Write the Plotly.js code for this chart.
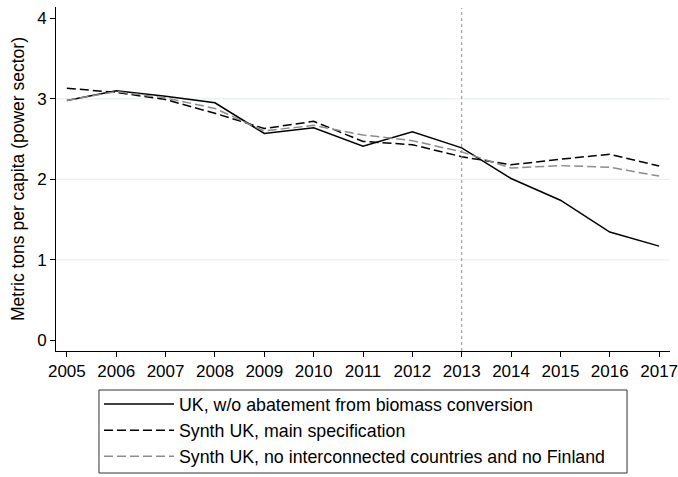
<!DOCTYPE html>
<html>
<head>
<meta charset="utf-8">
<script src="https://cdn.plot.ly/plotly-3.0.1.min.js"></script>
<style>html,body{margin:0;padding:0;background:#fff;}#chart{width:678px;height:477px;}</style>
</head>
<body>
<div id="chart"></div>
<script>
const years = [2005,2006,2007,2008,2009,2010,2011,2012,2013,2014,2015,2016,2017];
const ukNoBiomass = [2.98,3.10,3.03,2.95,2.57,2.64,2.41,2.59,2.39,2.01,1.74,1.345,1.17];
const synthMain = [3.13,3.08,2.99,2.82,2.63,2.72,2.47,2.43,2.28,2.18,2.25,2.31,2.165];
const synthNoInterconn = [2.98,3.09,3.01,2.88,2.60,2.67,2.55,2.48,2.34,2.14,2.17,2.15,2.04];
const seriesNames = [
  "UK, w/o abatement from biomass conversion",
  "Synth UK, main specification",
  "Synth UK, no interconnected countries and no Finland"
];
const treatmentYear = 2013;
const yTicks = [0,1,2,3,4];
const gridVals = [1,2,3];

const FONT = "Liberation Sans, Arial, Helvetica, sans-serif";

const traces = [
  {x: years, y: ukNoBiomass, name: seriesNames[0], type: 'scatter', mode: 'lines',
   line: {color: '#000000', width: 1.5}},
  {x: years, y: synthMain, name: seriesNames[1], type: 'scatter', mode: 'lines',
   line: {color: '#000000', width: 1.5, dash: '9px,4px'}},
  {x: years, y: synthNoInterconn, name: seriesNames[2], type: 'scatter', mode: 'lines',
   line: {color: '#8c8c8c', width: 1.5, dash: '9px,4px'}}
];

const shapes = gridVals.map(v => ({
  type: 'line', xref: 'paper', x0: 0, x1: 1, yref: 'y', y0: v, y1: v,
  line: {color: '#e8eff2', width: 1.2}, layer: 'below'
}));
shapes.push({
  type: 'line', xref: 'x', x0: treatmentYear, x1: treatmentYear, yref: 'paper', y0: 0, y1: 0.997,
  line: {color: '#909090', width: 1, dash: 'dot'}
});
// legend frame
shapes.push({
  type: 'rect', xref: 'paper', yref: 'paper',
  x0: 0.070, x1: 0.930, y0: -0.3547, y1: -0.1134,
  line: {color: '#333', width: 1}, fillcolor: 'rgba(0,0,0,0)'
});

const layout = {
  width: 678, height: 477,
  margin: {l: 56, r: 8, t: 7, b: 126, autoexpand: false},
  paper_bgcolor: '#ffffff', plot_bgcolor: '#ffffff',
  font: {family: FONT, size: 17, color: '#000'},
  showlegend: true,
  xaxis: {
    range: [2004.78, 2017.22], tickvals: years, ticktext: years.map(String),
    showgrid: false, zeroline: false, showline: true, linecolor: '#000', linewidth: 1,
    ticks: 'outside', ticklen: 5, tickcolor: '#000', tickfont: {size: 17, family: FONT},
    ticklabeloverflow: 'allow', automargin: false
  },
  yaxis: {
    range: [-0.133, 4.14], tickvals: yTicks,
    showgrid: false, zeroline: false, showline: true, linecolor: '#000', linewidth: 1,
    ticks: 'outside', ticklen: 5, tickcolor: '#000', tickfont: {size: 17, family: FONT},
    title: {text: 'Metric tons per capita (power sector)', font: {size: 17.5, family: FONT}, standoff: 8},
    automargin: false
  },
  legend: {
    orientation: 'v', x: 0.07, xanchor: 'left', y: -0.1017, yanchor: 'top',
    borderwidth: 0, bgcolor: 'rgba(0,0,0,0)',
    font: {size: 17.8, family: FONT}, itemwidth: 70, tracegroupgap: 0
  },
  shapes: shapes
};

Plotly.newPlot('chart', traces, layout, {displayModeBar: false, staticPlot: true});
</script>
</body>
</html>
